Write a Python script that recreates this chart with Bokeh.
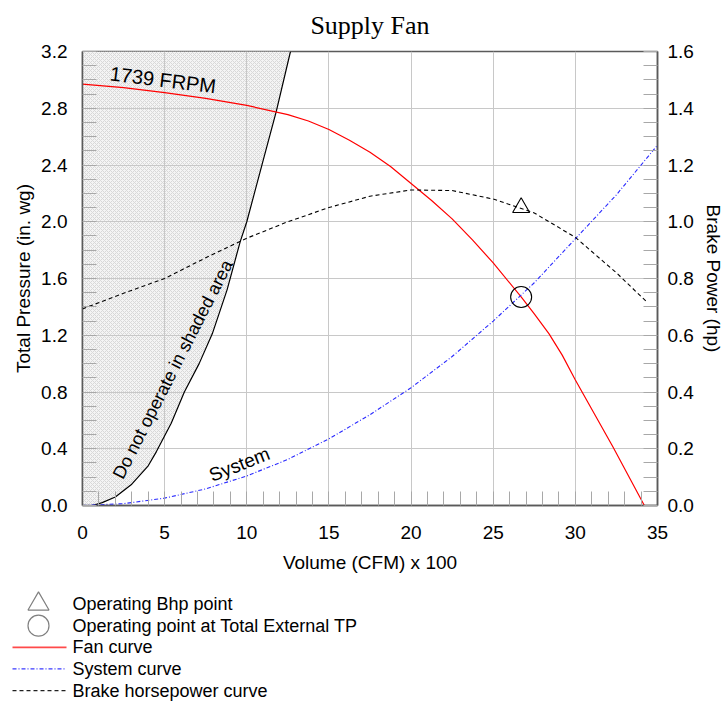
from bokeh.plotting import figure
from bokeh.models import (Range1d, LinearAxis, SingleIntervalTicker, PrintfTickFormatter, Label)
from bokeh.layouts import column
from bokeh.embed import file_html
from bokeh.resources import INLINE
from bokeh.core.properties import value

# ---------------- data ----------------
fan_cfm = [0, 2.5, 5, 7.5, 10, 12.5, 13.75, 15, 16.25, 17.5, 18.75, 20, 21.25, 22.5,
           23.75, 25, 26.7, 27.5, 28.4, 29.2, 30, 32.3, 34.2]
fan_tp = [2.97, 2.945, 2.91, 2.87, 2.82, 2.755, 2.71, 2.65, 2.575, 2.49, 2.39, 2.27, 2.15,
          2.02, 1.87, 1.71, 1.47, 1.35, 1.21, 1.06, 0.885, 0.41, 0.0]

sys_cfm = [0, 2.5, 5, 7.5, 10, 12.5, 15, 17.5, 20, 22.5, 25, 27.5, 30, 32.5, 35]
sys_tp = [0, 0.013, 0.052, 0.117, 0.208, 0.325, 0.47, 0.64, 0.83, 1.05, 1.30, 1.57, 1.88, 2.19, 2.54]

bhp_cfm = [0, 2.5, 5, 7.5, 10, 12.5, 15, 17.5, 20, 22.5, 25, 27.5, 30, 32.5, 34.3]
bhp_hp = [0.693, 0.748, 0.80, 0.873, 0.942, 1.0, 1.05, 1.09, 1.112, 1.11, 1.08, 1.031, 0.945, 0.82, 0.72]

limit_cfm = [0.6, 1.2, 2.0, 3.0, 4.0, 4.5, 5.4, 6.2, 7.1, 7.9, 8.8, 9.6, 10.0, 10.9, 11.8, 12.66]
limit_tp = [0.0, 0.02, 0.06, 0.15, 0.28, 0.38, 0.58, 0.80, 1.00, 1.21, 1.52, 1.86, 2.0, 2.39, 2.78, 3.2]

op_cfm = [26.7]
op_tp = [1.47]
op_bhp = [1.05]

x_interval = 5
tp_interval = 0.4
hp_interval = 0.2

legend_labels = ["Operating Bhp point", "Operating point at Total External TP",
                 "Fan curve", "System curve", "Brake horsepower curve"]

SANS = "Liberation Sans"
SERIF = "Liberation Serif"

# ---------------- main chart ----------------
p = figure(width=727, height=590, x_range=Range1d(0, 35), y_range=Range1d(0, 3.2),
           output_backend="svg", toolbar_location=None, title="Supply Fan",
           min_border_left=82, min_border_right=70, min_border_top=51, min_border_bottom=85)
p.frame_align = False
p.extra_y_ranges = {"bhp": Range1d(0, 1.6)}
p.background_fill_color = "white"
p.border_fill_color = "white"
p.outline_line_color = "#5a5a5a"
p.outline_line_width = 1.5

p.title.text_font = SERIF
p.title.text_font_size = "26px"
p.title.text_font_style = "normal"
p.title.align = "center"
p.title.vertical_align = "top"
p.title.text_color = "black"
p.title.standoff = 20

p.xaxis.ticker = SingleIntervalTicker(interval=x_interval, num_minor_ticks=5)
p.yaxis.ticker = SingleIntervalTicker(interval=tp_interval, num_minor_ticks=4)
p.yaxis.formatter = PrintfTickFormatter(format="%.1f")
p.xaxis.axis_label = "Volume (CFM) x 100"
p.yaxis.axis_label = "Total Pressure (in. wg)"

ax_r = LinearAxis(y_range_name="bhp", axis_label="Brake Power (hp)",
                  ticker=SingleIntervalTicker(interval=hp_interval, num_minor_ticks=4),
                  formatter=PrintfTickFormatter(format="%.1f"))
p.add_layout(ax_r, "right")

for ax in [p.xaxis[0], p.yaxis[0], ax_r]:
    ax.axis_line_color = "#5a5a5a"
    ax.axis_line_width = 1.5
    ax.major_tick_line_color = None
    ax.major_tick_in = 0
    ax.major_tick_out = 0
    ax.minor_tick_in = 14
    ax.minor_tick_out = 0
    ax.minor_tick_line_color = "#a8a8a8"
    ax.minor_tick_line_width = 1
    ax.major_label_text_font = SANS
    ax.major_label_text_font_size = "19px"
    ax.major_label_text_color = "black"
    ax.axis_label_text_font = SANS
    ax.axis_label_text_font_size = "19px"
    ax.axis_label_text_font_style = "normal"
    ax.axis_label_text_color = "black"

p.xaxis.major_label_standoff = 20
p.xaxis.axis_label_standoff = 10
p.yaxis.major_label_standoff = 15
p.yaxis.axis_label_standoff = 4
ax_r.major_label_standoff = 10
ax_r.axis_label_standoff = 6

p.xgrid.grid_line_color = "#c8c8c8"
p.ygrid.grid_line_color = "#c8c8c8"
p.xgrid.grid_line_width = 1
p.ygrid.grid_line_width = 1

# shaded "do not operate" region
p.harea(x1=0, x2=limit_cfm, y=limit_tp, fill_color="#f4f4f4", fill_alpha=1.0,
        hatch_pattern="x", hatch_color="#d8d8d8", hatch_scale=4, hatch_weight=1,
        level="image")

p.line(limit_cfm, limit_tp, line_color="black", line_width=1.2)
p.line(fan_cfm, fan_tp, line_color="#ff0000", line_width=1.2)
p.line(sys_cfm, sys_tp, line_color="#2a2aff", line_width=1.1, line_dash="4 2 1 2")
p.line(bhp_cfm, bhp_hp, line_color="black", line_width=1.1, line_dash="4 3", y_range_name="bhp")

p.scatter(op_cfm, op_bhp, marker="triangle", size=17, fill_color=None, line_color="black",
          line_width=1.1, y_range_name="bhp")
p.scatter(op_cfm, op_tp, marker="circle", size=21, fill_color=None, line_color="black",
          line_width=1.1)

p.add_layout(Label(x=4.9, y=3.0, text="1739 FRPM", angle=-7, angle_units="deg",
                   text_align="center", text_baseline="middle", text_font=SANS,
                   text_font_size="20px", text_color="black"))
p.add_layout(Label(x=9.55, y=0.29, text="System", angle=21.5, angle_units="deg",
                   text_align="center", text_baseline="middle", text_font=SANS,
                   text_font_size="19px", text_color="black"))
p.add_layout(Label(x=5.5, y=0.96, text="Do not operate in shaded area", angle=63,
                   angle_units="deg", text_align="center", text_baseline="middle",
                   text_font=SANS, text_font_size="18px", text_color="black"))

# ---------------- legend (own strip below the chart) ----------------
leg_h = 112
leg = figure(width=727, height=leg_h, x_range=Range1d(0, 727), y_range=Range1d(leg_h, 0),
             output_backend="svg", toolbar_location=None, x_axis_type=None, y_axis_type=None,
             min_border=0, min_border_left=0, min_border_right=0, min_border_top=0,
             min_border_bottom=0)
leg.frame_align = False
leg.outline_line_color = None
leg.grid.visible = False
leg.background_fill_color = "white"
leg.border_fill_color = "white"

row_y = [13.5 + 21.65 * i for i in range(len(legend_labels))]
sym_x = 38
seg_x0, seg_x1 = 12, 66
text_x = 72

leg.scatter([sym_x], [row_y[0]], marker="triangle", size=21, fill_color=None,
            line_color="#808080", line_width=1.2)
leg.scatter([sym_x], [row_y[1]], marker="circle", size=21, fill_color=None,
            line_color="#808080", line_width=1.2)
leg.segment(x0=[seg_x0], y0=[row_y[2]], x1=[seg_x1], y1=[row_y[2]], line_color="#ff4a4a",
            line_width=1.8)
leg.segment(x0=[seg_x0], y0=[row_y[3]], x1=[seg_x1], y1=[row_y[3]], line_color="#3a3aff",
            line_width=1.2, line_dash="4 2 1 2")
leg.segment(x0=[seg_x0], y0=[row_y[4]], x1=[seg_x1], y1=[row_y[4]], line_color="#202020",
            line_width=1.2, line_dash="4 3")
leg.text(x=[text_x] * len(legend_labels), y=row_y, text=legend_labels,
         text_font=value(SANS), text_font_size="18px", text_baseline="middle",
         text_align="left", text_color="black")

layout = column(p, leg, spacing=0)
open("out.html", "w").write(file_html(layout, INLINE))
